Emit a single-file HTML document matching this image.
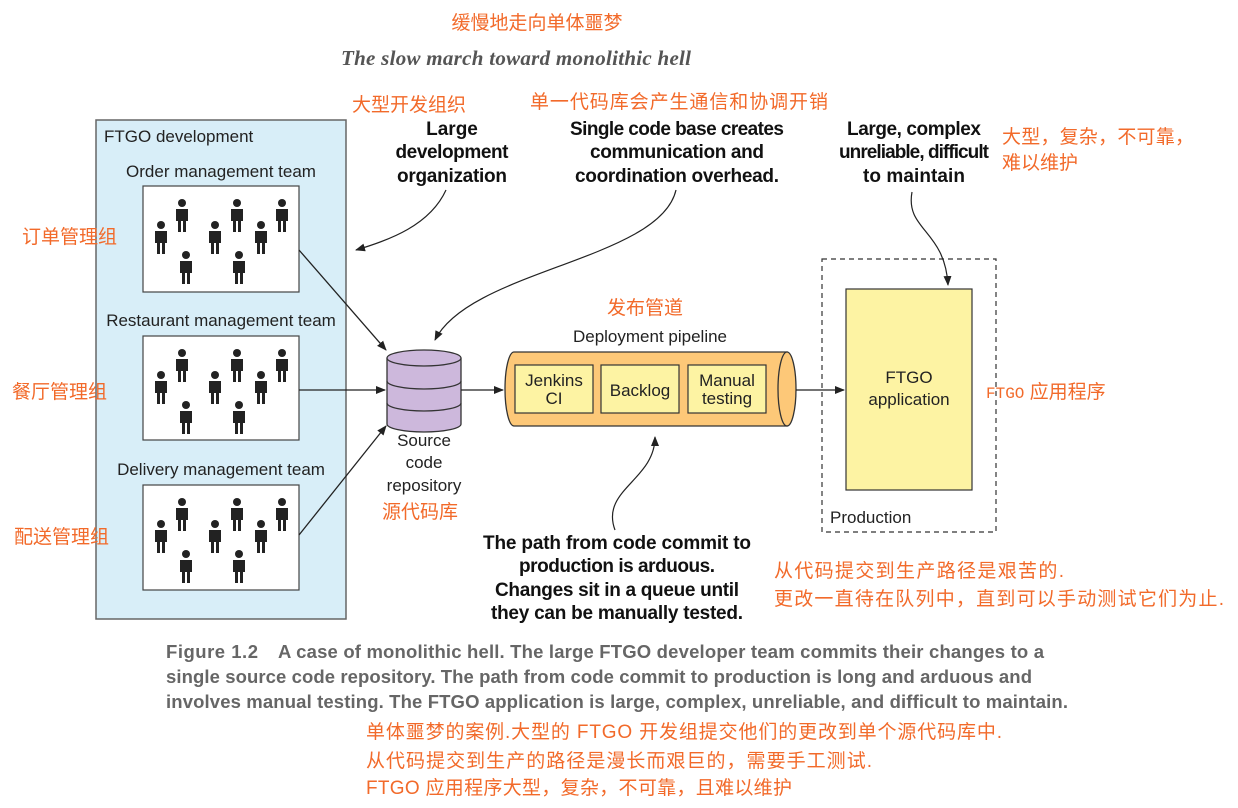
<!DOCTYPE html>
<html><head><meta charset="utf-8"><style>
body{margin:0;background:#fff;}
svg{display:block;}
.cn{font-family:"Liberation Sans","Noto Sans CJK SC",sans-serif;fill:#f26a2a;font-size:19px;}
.t{font-family:"Liberation Sans",sans-serif;fill:#222;font-size:17px;}
.b{font-family:"Liberation Sans Narrow","Liberation Sans",sans-serif;font-weight:bold;fill:#111;font-size:19px;}
.cap{font-family:"Liberation Sans",sans-serif;font-weight:bold;fill:#666;font-size:18.5px;}
</style></head><body>
<svg width="1238" height="808" viewBox="0 0 1238 808" xmlns="http://www.w3.org/2000/svg">
<defs>
<g id="p"><circle cx="0" cy="4" r="4" fill="#222"/><path d="M-6,10 h12 v12 h-2 v11 h-3 v-11 h-2 v11 h-3 v-11 h-2 z" fill="#222"/></g>
<g id="grp">
<use href="#p" x="161" y="221"/><use href="#p" x="182" y="199"/><use href="#p" x="215" y="221"/><use href="#p" x="237" y="199"/><use href="#p" x="261" y="221"/><use href="#p" x="282" y="199"/><use href="#p" x="186" y="251"/><use href="#p" x="239" y="251"/>
</g>
<marker id="a" markerWidth="10" markerHeight="8" refX="9" refY="4" orient="auto" markerUnits="userSpaceOnUse"><path d="M0,0 L10,4 L0,8 z" fill="#222"/></marker>
</defs>

<text class="cn" x="537" y="29" text-anchor="middle" font-size="21">缓慢地走向单体噩梦</text>
<text x="516" y="65" text-anchor="middle" font-family="Liberation Serif,serif" font-style="italic" font-weight="bold" font-size="21" fill="#555" textLength="350">The slow march toward monolithic hell</text>

<rect x="96" y="120" width="250" height="499" fill="#d8eef8" stroke="#666" stroke-width="1.5"/>
<text class="t" x="104" y="142">FTGO development</text>
<text class="t" x="221" y="177" text-anchor="middle">Order management team</text>
<text class="t" x="221" y="326" text-anchor="middle">Restaurant management team</text>
<text class="t" x="221" y="475" text-anchor="middle">Delivery management team</text>
<rect x="143" y="186" width="156" height="106" fill="#fff" stroke="#444" stroke-width="1.2"/>
<rect x="143" y="336" width="156" height="104" fill="#fff" stroke="#444" stroke-width="1.2"/>
<rect x="143" y="485" width="156" height="105" fill="#fff" stroke="#444" stroke-width="1.2"/>
<use href="#grp"/><use href="#grp" y="150"/><use href="#grp" y="299"/>

<text class="cn" x="22" y="243">订单管理组</text>
<text class="cn" x="12" y="398">餐厅管理组</text>
<text class="cn" x="14" y="543">配送管理组</text>

<path d="M387,358 v66 a37,8 0 0 0 74,0 v-66" fill="#cdb8dc" stroke="#333" stroke-width="1.3"/>
<path d="M387,381 a37,8 0 0 0 74,0 M387,403 a37,8 0 0 0 74,0" fill="none" stroke="#333" stroke-width="1.3"/>
<ellipse cx="424" cy="358" rx="37" ry="8" fill="#cdb8dc" stroke="#333" stroke-width="1.3"/>
<text class="t" x="424" y="446" text-anchor="middle">Source</text>
<text class="t" x="424" y="468" text-anchor="middle">code</text>
<text class="t" x="424" y="491" text-anchor="middle">repository</text>
<text class="cn" x="382" y="518">源代码库</text>

<line x1="299" y1="250" x2="386" y2="350" stroke="#222" stroke-width="1.3" marker-end="url(#a)"/>
<line x1="299" y1="390" x2="385" y2="390" stroke="#222" stroke-width="1.3" marker-end="url(#a)"/>
<line x1="299" y1="535" x2="386" y2="426" stroke="#222" stroke-width="1.3" marker-end="url(#a)"/>
<line x1="461" y1="390" x2="503" y2="390" stroke="#222" stroke-width="1.3" marker-end="url(#a)"/>

<text class="cn" x="607" y="314">发布管道</text>
<text class="t" x="650" y="342" text-anchor="middle">Deployment pipeline</text>
<path d="M514,352 H787 V426 H514 A9,37 0 0 1 514,352 z" fill="#fdc878" stroke="#333" stroke-width="1.3"/>
<ellipse cx="787" cy="389" rx="9" ry="37" fill="#fdc878" stroke="#333" stroke-width="1.3"/>
<rect x="515" y="365" width="78" height="48" fill="#fdf3a3" stroke="#333" stroke-width="1.2"/>
<rect x="601" y="365" width="78" height="48" fill="#fdf3a3" stroke="#333" stroke-width="1.2"/>
<rect x="688" y="365" width="78" height="48" fill="#fdf3a3" stroke="#333" stroke-width="1.2"/>
<text class="t" x="554" y="386" text-anchor="middle">Jenkins</text>
<text class="t" x="554" y="404" text-anchor="middle">CI</text>
<text class="t" x="640" y="396" text-anchor="middle">Backlog</text>
<text class="t" x="727" y="386" text-anchor="middle">Manual</text>
<text class="t" x="727" y="404" text-anchor="middle">testing</text>
<line x1="796" y1="390" x2="844" y2="390" stroke="#222" stroke-width="1.3" marker-end="url(#a)"/>

<rect x="822" y="259" width="174" height="273" fill="none" stroke="#333" stroke-width="1.2" stroke-dasharray="5,4"/>
<rect x="846" y="289" width="126" height="201" fill="#fdf3a3" stroke="#333" stroke-width="1.2"/>
<text class="t" x="909" y="383" text-anchor="middle">FTGO</text>
<text class="t" x="909" y="405" text-anchor="middle">application</text>
<text class="t" x="830" y="523">Production</text>
<text class="cn" x="986" y="398"><tspan font-family="Liberation Mono,monospace" font-size="16">FTGO</tspan> 应用程序</text>

<text class="cn" x="352" y="111">大型开发组织</text>
<text class="b" x="452" y="135" text-anchor="middle">Large</text>
<text class="b" x="452" y="158" text-anchor="middle" textLength="113">development</text>
<text class="b" x="452" y="182" text-anchor="middle" textLength="110">organization</text>
<path d="M446,190 C430,225 390,240 356,250" fill="none" stroke="#222" stroke-width="1.2" marker-end="url(#a)"/>

<text class="cn" x="530" y="108" textLength="298">单一代码库会产生通信和协调开销</text>
<text class="b" x="677" y="135" text-anchor="middle" textLength="214">Single code base creates</text>
<text class="b" x="677" y="158" text-anchor="middle" textLength="174">communication and</text>
<text class="b" x="677" y="182" text-anchor="middle" textLength="204">coordination overhead.</text>
<path d="M676,190 C660,260 470,270 435,340" fill="none" stroke="#222" stroke-width="1.2" marker-end="url(#a)"/>

<text class="b" x="914" y="135" text-anchor="middle" textLength="134">Large, complex</text>
<text class="b" x="914" y="158" text-anchor="middle" textLength="150">unreliable, difficult</text>
<text class="b" x="914" y="182" text-anchor="middle" textLength="102">to maintain</text>
<text class="cn" x="1002" y="143" textLength="192">大型，复杂，不可靠，</text>
<text class="cn" x="1002" y="169">难以维护</text>
<path d="M912,192 C905,230 945,230 948,285" fill="none" stroke="#222" stroke-width="1.2" marker-end="url(#a)"/>

<path d="M615,530 C600,490 655,480 655,437" fill="none" stroke="#222" stroke-width="1.2" marker-end="url(#a)"/>
<text class="b" x="617" y="549" text-anchor="middle" textLength="268">The path from code commit to</text>
<text class="b" x="617" y="572" text-anchor="middle" textLength="196">production is arduous.</text>
<text class="b" x="617" y="596" text-anchor="middle" textLength="244">Changes sit in a queue until</text>
<text class="b" x="617" y="619" text-anchor="middle" textLength="252">they can be manually tested.</text>
<text class="cn" x="774" y="577" textLength="290">从代码提交到生产路径是艰苦的.</text>
<text class="cn" x="774" y="605" textLength="450">更改一直待在队列中，直到可以手动测试它们为止.</text>

<text class="cap" x="166" y="658" textLength="92">Figure 1.2</text>
<text class="cap" x="278" y="658" textLength="766">A case of monolithic hell. The large FTGO developer team commits their changes to a</text>
<text class="cap" x="166" y="683" textLength="866">single source code repository. The path from code commit to production is long and arduous and</text>
<text class="cap" x="166" y="708" textLength="902">involves manual testing. The FTGO application is large, complex, unreliable, and difficult to maintain.</text>
<text class="cn" x="366" y="738" textLength="636">单体噩梦的案例.大型的 FTGO 开发组提交他们的更改到单个源代码库中.</text>
<text class="cn" x="366" y="767" textLength="506">从代码提交到生产的路径是漫长而艰巨的，需要手工测试.</text>
<text class="cn" x="366" y="794" textLength="426">FTGO 应用程序大型，复杂，不可靠，且难以维护</text>
</svg>
</body></html>
